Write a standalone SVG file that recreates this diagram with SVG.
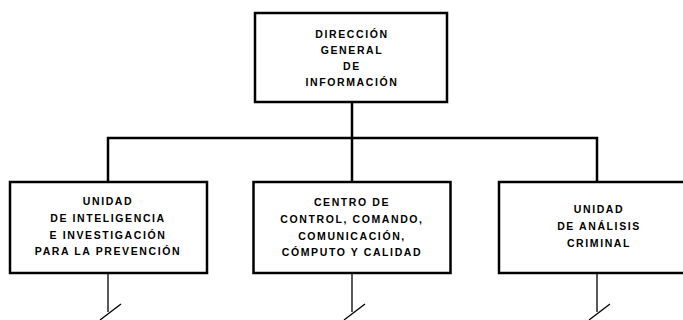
<svg xmlns="http://www.w3.org/2000/svg" width="683" height="320" viewBox="0 0 683 320">
<style>
.box{fill:#fff;stroke:#000;stroke-width:2.5}
.t{font-family:"Liberation Sans",Arial,sans-serif;font-weight:bold;font-size:10.5px;letter-spacing:1.6px;text-anchor:middle;fill:#000}
.c{fill:none;stroke:#000;stroke-width:2.5}
.s{fill:none;stroke:#000;stroke-width:1.3}
</style>
<rect width="683" height="320" fill="#fff"/>
<g id="connectors">
<line class="c" x1="352" y1="102" x2="352" y2="138"/>
<polyline class="c" points="108,182 108,138 597,138 597,182"/>
<line class="c" x1="352" y1="138" x2="352" y2="182"/>
<line class="s" x1="108" y1="274" x2="108" y2="312"/>
<line class="s" x1="100" y1="320" x2="121" y2="304"/>
<line class="s" x1="352" y1="274" x2="352" y2="312"/>
<line class="s" x1="344" y1="320" x2="365" y2="304"/>
<line class="s" x1="597" y1="274" x2="597" y2="312"/>
<line class="s" x1="589" y1="320" x2="610" y2="304"/>
</g>
<g id="dgi">
<rect class="box" x="255" y="13" width="192" height="89"/>
<text class="t" x="352" y="38">DIRECCIÓN</text>
<text class="t" x="352" y="54">GENERAL</text>
<text class="t" x="352" y="70">DE</text>
<text class="t" x="352" y="86">INFORMACIÓN</text>
</g>
<g id="uiip">
<rect class="box" x="10" y="182" width="197" height="91"/>
<text class="t" x="108" y="205">UNIDAD</text>
<text class="t" x="108" y="222">DE INTELIGENCIA</text>
<text class="t" x="108" y="239">E INVESTIGACIÓN</text>
<text class="t" x="108" y="255">PARA LA PREVENCIÓN</text>
</g>
<g id="c5">
<rect class="box" x="253.5" y="182" width="197" height="91"/>
<text class="t" x="352" y="206">CENTRO DE</text>
<text class="t" x="352" y="223">CONTROL, COMANDO,</text>
<text class="t" x="352" y="240">COMUNICACIÓN,</text>
<text class="t" x="352" y="256">CÓMPUTO Y CALIDAD</text>
</g>
<g id="uac">
<rect class="box" x="499" y="182" width="200" height="91"/>
<text class="t" x="599" y="213">UNIDAD</text>
<text class="t" x="599" y="230">DE ANÁLISIS</text>
<text class="t" x="599" y="247">CRIMINAL</text>
</g>
</svg>
